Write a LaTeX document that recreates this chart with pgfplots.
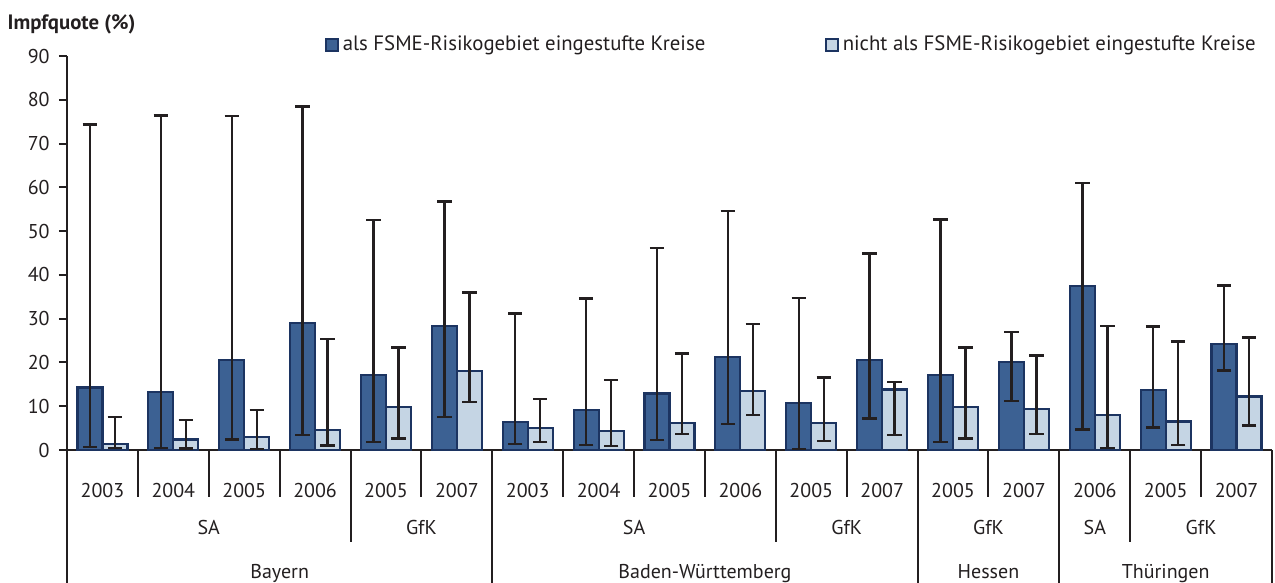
\documentclass[border=0pt]{standalone}
\usepackage{fontspec}
\setmainfont{PT Sans}
\usepackage{pgfplots}
\pgfplotsset{compat=1.18}
\usepackage{pgfplotstable}
\definecolor{darkbar}{HTML}{3C6193}
\definecolor{lightbar}{HTML}{C5D5E4}
\definecolor{barline}{HTML}{1C3461}
\definecolor{txt}{HTML}{231F20}

% x = category index; y1/ep1/em1 = als FSME-Risikogebiet eingestufte Kreise
% y2/ep2/em2 = nicht als FSME-Risikogebiet eingestufte Kreise
\pgfplotstableread{
x  y1   ep1  em1  y2   ep2  em2
0  14.3 60.1 13.6 1.4  6.1  1.0
1  13.3 63.1 12.9 2.4  4.4  2.1
2  20.6 55.7 18.2 3.0  6.1  2.8
3  29.1 49.4 25.7 4.6  20.7 3.6
4  17.2 35.4 15.4 9.8  13.6 7.2
5  28.3 28.5 20.8 18.0 18.0 7.1
6  6.4  24.8 5.0  5.0  6.7  3.2
7  9.1  25.5 8.0  4.3  11.7 3.4
8  12.9 33.2 10.6 6.2  15.8 2.6
9  21.3 33.3 15.4 13.4 15.4 5.4
10 10.7 24.0 10.5 6.2  10.4 4.1
11 20.5 24.4 13.3 13.8 1.7  10.4
12 17.2 35.5 15.4 9.8  13.6 7.2
13 20.1 6.8  8.9  9.4  12.2 5.8
14 37.5 23.5 32.8 8.0  20.3 7.5
15 13.7 14.5 8.6  6.5  18.3 5.3
16 24.2 13.4 6.0  12.2 13.5 6.6
}\data

\begin{document}
\begin{tikzpicture}[font=\fontsize{10bp}{12bp}\selectfont, text=txt]
\useasboundingbox (-33.5bp,-66.5bp) rectangle (604bp,225bp);
\begin{axis}[
  at={(0,0)}, anchor=south west,
  scale only axis, width=602.5bp, height=197bp,
  xmin=-0.5, xmax=16.5, ymin=0, ymax=90,
  clip=false,
  axis lines*=left,
  axis line style={txt, line width=1bp},
  /pgf/number format/assume math mode=true,
  ytick={0,10,...,90},
  ytick align=outside,
  major tick length=4bp,
  ytick style={txt, line width=1bp},
  yticklabel style={anchor=east, inner sep=0pt, xshift=-4.5bp, text=txt,
    font=\fontsize{10bp}{12bp}\selectfont},
  xtick={0,...,16},
  xtick style={draw=none},
  xticklabels={2003,2004,2005,2006,2005,2007,2003,2004,2005,2006,2005,2007,2005,2007,2006,2005,2007},
  xticklabel style={anchor=base, inner sep=0pt, yshift=-19.7bp, text=txt},
  ybar=0pt, bar width=12.5bp,
  legend columns=2,
  legend cell align=left,
  legend style={draw=none, fill=none, at={(0.2141,1.028)}, anchor=west, inner sep=0pt,
    font=\fontsize{10.4bp}{12bp}\selectfont, text=txt,
    /tikz/every even column/.append style={column sep=58bp}},
]
\addplot[fill=darkbar, draw=barline, line width=1.1bp,
  legend image code/.code={\draw[fill=darkbar, draw=barline, line width=0.9bp] (0bp,-2.9bp) rectangle (5.8bp,2.9bp);},
  error bars/.cd, y dir=both, y explicit,
  error bar style={txt, line width=1.2bp},
  error mark options={txt, line width=1.2bp, mark size=3.6bp, rotate=90}]
  table[x=x, y=y1, y error plus=ep1, y error minus=em1]{\data};
\addlegendentry{als FSME-Risikogebiet eingestufte Kreise}
\addplot[fill=lightbar, draw=barline, line width=1.1bp,
  legend image code/.code={\draw[fill=lightbar, draw=barline, line width=0.9bp] (0bp,-2.9bp) rectangle (5.8bp,2.9bp);},
  error bars/.cd, y dir=both, y explicit,
  error bar style={txt, line width=1.2bp},
  error mark options={txt, line width=1.2bp, mark size=3.6bp, rotate=90}]
  table[x=x, y=y2, y error plus=ep2, y error minus=em2]{\data};
\addlegendentry{nicht als FSME-Risikogebiet eingestufte Kreise}

% separators
\pgfplotsinvokeforeach{0.5,1.5,2.5,4.5,6.5,7.5,8.5,10.5,12.5,15.5}{
  \draw[txt, line width=1bp] (axis cs:#1,0) -- ([yshift=-23.5bp]axis cs:#1,0);}
\pgfplotsinvokeforeach{3.5,9.5,14.5}{
  \draw[txt, line width=1bp] (axis cs:#1,0) -- ([yshift=-46bp]axis cs:#1,0);}
\pgfplotsinvokeforeach{-0.5,5.5,11.5,13.5,16.5}{
  \draw[txt, line width=1bp] (axis cs:#1,0) -- ([yshift=-67bp]axis cs:#1,0);}

% group labels
\node[anchor=base, inner sep=0pt] at ([yshift=-42.2bp]axis cs:1.5,0) {SA};
\node[anchor=base, inner sep=0pt] at ([yshift=-42.2bp]axis cs:4.5,0) {GfK};
\node[anchor=base, inner sep=0pt] at ([yshift=-42.2bp]axis cs:7.5,0) {SA};
\node[anchor=base, inner sep=0pt] at ([yshift=-42.2bp]axis cs:10.5,0) {GfK};
\node[anchor=base, inner sep=0pt] at ([yshift=-42.2bp]axis cs:12.5,0) {GfK};
\node[anchor=base, inner sep=0pt] at ([yshift=-42.2bp]axis cs:14,0) {SA};
\node[anchor=base, inner sep=0pt] at ([yshift=-42.2bp]axis cs:15.5,0) {GfK};
% state labels
\node[anchor=base, inner sep=0pt] at ([yshift=-64.2bp]axis cs:2.5,0) {Bayern};
\node[anchor=base, inner sep=0pt] at ([yshift=-64.2bp]axis cs:8.5,0) {Baden-Württemberg};
\node[anchor=base, inner sep=0pt] at ([yshift=-64.2bp]axis cs:12.5,0) {Hessen};
\node[anchor=base, inner sep=0pt] at ([yshift=-64.2bp]axis cs:15,0) {Thüringen};
\end{axis}
\node[anchor=base west, inner sep=0pt, font=\fontsize{10.4bp}{12bp}\selectfont\bfseries] at (-29.85bp,210bp) {Impfquote (\%)};
\end{tikzpicture}
\end{document}
